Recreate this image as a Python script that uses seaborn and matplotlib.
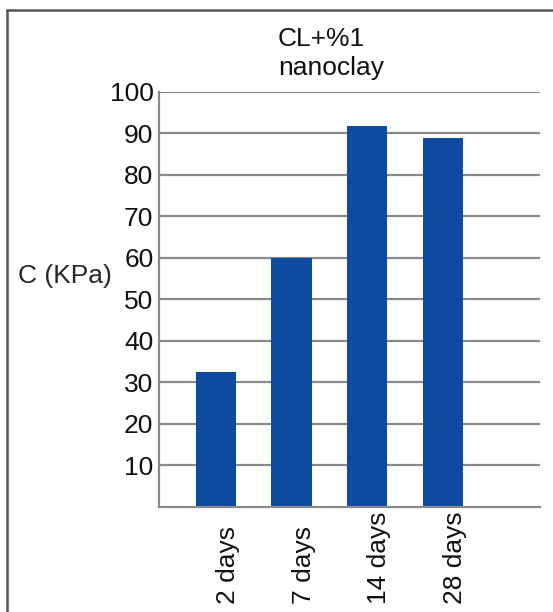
import seaborn as sns
import matplotlib.pyplot as plt
from matplotlib.lines import Line2D

ages = ["2 days", "7 days", "14 days", "28 days"]
cohesion = [32.5, 60.0, 91.8, 89.0]
y_ticks = [10, 20, 30, 40, 50, 60, 70, 80, 90, 100]

sns.set_style("white")
plt.rcParams['font.family'] = ['Liberation Sans', 'DejaVu Sans']
plt.rcParams['text.color'] = '#111111'
plt.rcParams['xtick.color'] = '#111111'
plt.rcParams['ytick.color'] = '#111111'

fig = plt.figure(figsize=(5.53, 6.12), dpi=100)
ax = fig.add_axes([0.2875, 0.1716, 0.689, 0.6781])

sns.barplot(x=ages, y=cohesion, color="#0e4ba0", saturation=1, width=0.53,
            linewidth=0, ax=ax)

ax.set_ylim(0, 100)
ax.set_xlim(-0.75, 4.28)
ax.set_yticks(y_ticks)
ax.set_yticklabels([str(t) for t in y_ticks], fontsize=19)
ax.yaxis.grid(True, color="#8a8a8a", linewidth=1.6)
ax.set_axisbelow(True)
ax.tick_params(axis='y', length=0, pad=4)
ax.tick_params(axis='x', length=0, pad=70)
ax.set_xticks(range(len(ages)))
ax.set_xticklabels(ages, rotation=90, fontsize=19, va='bottom', ha='left')

for side in ["top", "right"]:
    ax.spines[side].set_visible(False)
for side in ["left", "bottom"]:
    ax.spines[side].set_color("#8a8a8a")
    ax.spines[side].set_linewidth(1.6)

ax.set_ylabel("C (KPa)", rotation=0, fontsize=19, ha='left', va='baseline')
ax.yaxis.set_label_coords(-0.369, 0.540)

fig.text(278 / 553, 1 - 27 / 612, "CL+%1\nnanoclay", fontsize=19,
         ha='left', va='top', multialignment='left', linespacing=1.28)

# outer frame (left and top edges only)
fig.add_artist(Line2D([7 / 553, 7 / 553], [0, 1 - 10 / 612], color="#555555", linewidth=1.8,
                      transform=fig.transFigure))
fig.add_artist(Line2D([7 / 553, 1], [1 - 10 / 612, 1 - 10 / 612], color="#555555", linewidth=1.8,
                      transform=fig.transFigure))

plt.savefig("out.png", dpi=100)
